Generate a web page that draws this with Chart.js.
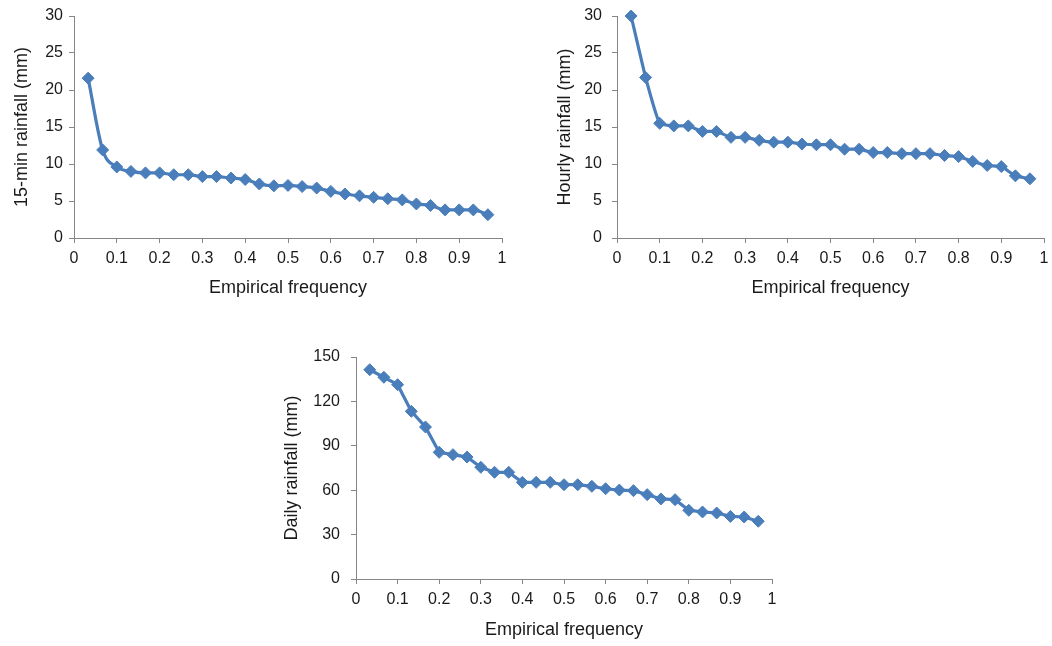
<!DOCTYPE html>
<html>
<head>
<meta charset="utf-8">
<script src="https://cdn.jsdelivr.net/npm/chart.js@4/dist/chart.umd.min.js"></script>
<style>
  html, body { margin: 0; padding: 0; background: #ffffff; }
  body { width: 1052px; height: 646px; position: relative; overflow: hidden; }
  canvas { position: absolute; }
</style>
</head>
<body>
<canvas id="c1" width="515" height="310" style="left:0px;top:0px;"></canvas>
<canvas id="c2" width="512" height="310" style="left:540px;top:0px;"></canvas>
<canvas id="c3" width="520" height="306" style="left:270px;top:340px;"></canvas>
<script>
// Empirical frequency (x values, shared by all three panels)
const freq = [0.033, 0.067, 0.100, 0.133, 0.167, 0.200, 0.233, 0.267, 0.300, 0.333,
              0.367, 0.400, 0.433, 0.467, 0.500, 0.533, 0.567, 0.600, 0.633, 0.667,
              0.700, 0.733, 0.767, 0.800, 0.833, 0.867, 0.900, 0.933, 0.967];

// 15-min rainfall (mm)
const rain15min = [21.6, 11.9, 9.6, 9.0, 8.8, 8.8, 8.55, 8.55, 8.3, 8.3,
                   8.1, 7.9, 7.3, 7.05, 7.1, 6.95, 6.75, 6.3, 5.95, 5.7,
                   5.5, 5.3, 5.15, 4.6, 4.4, 3.8, 3.8, 3.8, 3.15];

// Hourly rainfall (mm)
const rainHourly = [30.0, 21.7, 15.5, 15.15, 15.15, 14.4, 14.4, 13.6, 13.6, 13.2,
                    12.95, 12.95, 12.7, 12.6, 12.6, 12.0, 12.0, 11.55, 11.55, 11.4,
                    11.4, 11.4, 11.15, 11.0, 10.35, 9.8, 9.65, 8.4, 8.0];

// Daily rainfall (mm)
const rainDaily = [141.4, 136.3, 131.3, 113.3, 102.7, 85.6, 84.0, 82.4, 75.5, 72.1,
                   72.1, 65.3, 65.3, 65.3, 63.7, 63.7, 62.6, 61.0, 60.1, 59.7,
                   57.0, 54.1, 53.6, 46.4, 45.3, 44.6, 42.3, 41.9, 39.0];

// X tick labels
const xTickLabels = ['0', '0.1', '0.2', '0.3', '0.4', '0.5', '0.6', '0.7', '0.8', '0.9', '1'];

// Axis titles
const xTitle = 'Empirical frequency';
const yTitle15 = '15-min rainfall (mm)';
const yTitleHourly = 'Hourly rainfall (mm)';
const yTitleDaily = 'Daily rainfall (mm)';

const FONT = '"Liberation Sans", Arial, sans-serif';
const BLUE = '#4a7ebb';
const AXIS = '#868686';

function zeroPad(s) { s.paddingTop = 0; s.paddingBottom = 0; s.paddingLeft = 0; s.paddingRight = 0; }

function makeChart(id, yValues, yLabel, yMax, yStep, cfg) {
  const pts = freq.map((f, i) => ({ x: f, y: yValues[i] }));
  return new Chart(document.getElementById(id), {
    type: 'scatter',
    data: {
      datasets: [{
        data: pts,
        showLine: true,
        borderColor: BLUE,
        backgroundColor: BLUE,
        borderWidth: 3.2,
        tension: cfg.tension,
        cubicInterpolationMode: cfg.mono ? 'monotone' : 'default',
        pointStyle: 'rectRot',
        pointRadius: 6,
        pointBorderWidth: 1,
        pointBorderColor: BLUE,
        pointBackgroundColor: BLUE,
        clip: false
      }]
    },
    options: {
      responsive: false,
      animation: false,
      events: [],
      layout: { autoPadding: false, padding: { left: 0, right: cfg.padRight, top: cfg.padTop, bottom: 0 } },
      plugins: { legend: { display: false }, tooltip: { enabled: false } },
      scales: {
        x: {
          type: 'linear', min: 0, max: 1,
          afterFit: s => { s.height = cfg.xHeight; zeroPad(s); },
          ticks: { stepSize: 0.1, padding: 6, color: '#1a1a1a', font: { family: FONT, size: 16 },
                   callback: (v, i) => xTickLabels[i] },
          grid: { display: true, drawOnChartArea: false, drawTicks: true, tickLength: 5, color: AXIS },
          border: { display: true, color: AXIS, width: 1 },
          title: { display: true, text: xTitle, color: '#1a1a1a', font: { family: FONT, size: 18 },
                   padding: { top: 0, bottom: cfg.xTitlePad } }
        },
        y: {
          type: 'linear', min: 0, max: yMax,
          afterFit: s => { s.width = cfg.yWidth; zeroPad(s); },
          ticks: { stepSize: yStep, padding: cfg.yTickPad, color: '#1a1a1a', font: { family: FONT, size: 16 } },
          grid: { display: true, drawOnChartArea: false, drawTicks: true, tickLength: 5, color: AXIS },
          border: { display: true, color: AXIS, width: 1 },
          title: { display: true, text: yLabel, color: '#1a1a1a', font: { family: FONT, size: 18 },
                   padding: { top: cfg.yTitlePad, bottom: 0 } }
        }
      }
    }
  });
}

makeChart('c1', rain15min, yTitle15, 30, 5,
  { tension: 0.3, mono: true, padRight: 13, padTop: 16, xHeight: 72, yWidth: 74, yTickPad: 6, yTitlePad: 11, xTitlePad: 11 });
makeChart('c2', rainHourly, yTitleHourly, 30, 5,
  { tension: 0.15, mono: false, padRight: 8, padTop: 16, xHeight: 72, yWidth: 77, yTickPad: 10, yTitlePad: 14, xTitlePad: 11 });
makeChart('c3', rainDaily, yTitleDaily, 150, 30,
  { tension: 0, mono: false, padRight: 18, padTop: 17, xHeight: 67, yWidth: 86, yTickPad: 11, yTitlePad: 11, xTitlePad: 5 });
</script>
</body>
</html>
